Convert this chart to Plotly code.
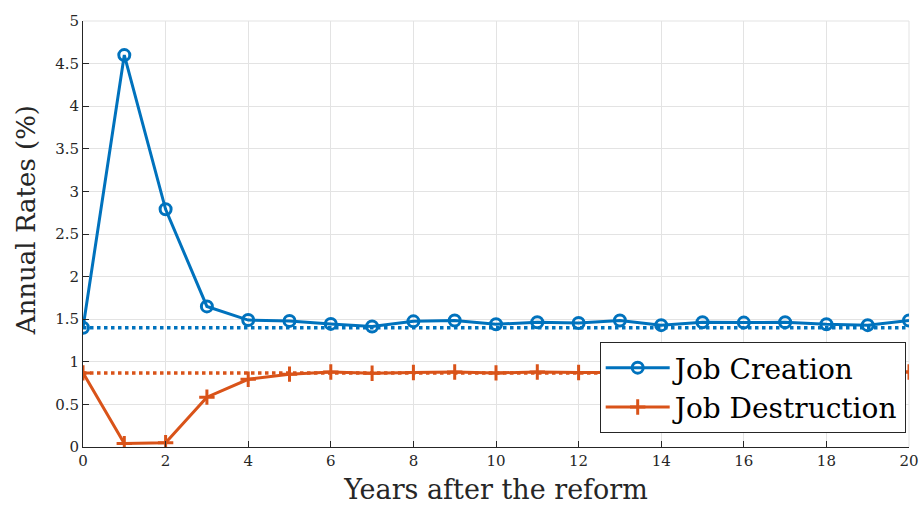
import plotly.graph_objects as go

# Years after the reform
years = list(range(0, 21))

# Annual job creation and destruction rates (%)
job_creation = [1.40, 4.60, 2.79, 1.65, 1.49, 1.48, 1.445, 1.415, 1.475, 1.485,
                1.44, 1.465, 1.455, 1.485, 1.43, 1.465, 1.46, 1.465, 1.44, 1.43, 1.485]
job_destruction = [0.87, 0.04, 0.05, 0.585, 0.795, 0.855, 0.88, 0.865, 0.875, 0.88,
                   0.87, 0.88, 0.875, 0.875, 0.875, 0.875, 0.875, 0.875, 0.875, 0.875, 0.88]

# Pre-reform steady-state levels
creation_ss = 1.40
destruction_ss = 0.87

x_ticks = list(range(0, 21, 2))
y_ticks = [0, 0.5, 1, 1.5, 2, 2.5, 3, 3.5, 4, 4.5, 5]
y_tick_text = ["0", "0.5", "1", "1.5", "2", "2.5", "3", "3.5", "4", "4.5", "5"]

BLUE = "#0072BD"
ORANGE = "#D95319"
AXIS = "#262626"
GRID = "#e3e3e3"
FONT = "'DejaVu Serif', 'Liberation Serif', serif"

fig = go.Figure()

# steady-state reference lines (dotted)
fig.add_trace(go.Scatter(
    x=[years[0], years[-1]], y=[creation_ss, creation_ss], mode="lines",
    line=dict(color=BLUE, width=3.5, dash="dot"), showlegend=False, hoverinfo="skip"))
fig.add_trace(go.Scatter(
    x=[years[0], years[-1]], y=[destruction_ss, destruction_ss], mode="lines",
    line=dict(color=ORANGE, width=3.5, dash="dot"), showlegend=False, hoverinfo="skip"))

fig.add_trace(go.Scatter(
    x=years, y=job_creation, mode="lines+markers", name="Job Creation",
    line=dict(color=BLUE, width=3),
    marker=dict(symbol="circle-open", size=11, color=BLUE, line=dict(width=3, color=BLUE))))
fig.add_trace(go.Scatter(
    x=years, y=job_destruction, mode="lines+markers", name="Job Destruction",
    line=dict(color=ORANGE, width=3),
    marker=dict(symbol="cross-thin-open", size=11, color=ORANGE, line=dict(width=3, color=ORANGE))))

fig.update_layout(
    width=921, height=505,
    margin=dict(l=83, r=12, t=21, b=58),
    paper_bgcolor="white", plot_bgcolor="white",
    font=dict(family=FONT, color=AXIS, size=15),
    showlegend=True,
    legend=dict(
        x=0.996, y=0.033, xanchor="right", yanchor="bottom",
        bgcolor="white", bordercolor="#262626", borderwidth=1,
        font=dict(family=FONT, size=28, color="black"),
        itemwidth=64, tracegroupgap=0,
    ),
)

fig.update_xaxes(
    range=[0, 20], tickvals=x_ticks, ticktext=[str(v) for v in x_ticks],
    showgrid=True, gridcolor=GRID, gridwidth=1,
    showline=True, linecolor=AXIS, linewidth=1,
    ticks="inside", ticklen=6, tickcolor=AXIS,
    tickfont=dict(family=FONT, size=15, color=AXIS),
    zeroline=False, mirror=False, automargin=False,
    title=dict(text="Years after the reform", font=dict(family=FONT, size=27, color=AXIS), standoff=11),
)
fig.update_yaxes(
    range=[0, 5], tickvals=y_ticks, ticktext=y_tick_text,
    showgrid=True, gridcolor=GRID, gridwidth=1,
    showline=True, linecolor=AXIS, linewidth=1,
    ticks="inside", ticklen=6, tickcolor=AXIS,
    tickfont=dict(family=FONT, size=15, color=AXIS),
    zeroline=False, mirror=False, automargin=False,
)

# vertical axis title placed as a rotated annotation
fig.add_annotation(
    text="Annual Rates (%)", xref="paper", yref="paper",
    x=-0.068, y=0.532, xanchor="center", yanchor="middle",
    textangle=-90, showarrow=False,
    font=dict(family=FONT, size=26, color=AXIS),
)

# top and right frame drawn as light grid edges
fig.add_shape(type="line", xref="paper", yref="paper", x0=0, x1=1, y0=1, y1=1,
              line=dict(color=GRID, width=1), layer="below")
fig.add_shape(type="line", xref="paper", yref="paper", x0=1, x1=1, y0=0, y1=1,
              line=dict(color=GRID, width=1), layer="below")

fig.write_html("out.html")
